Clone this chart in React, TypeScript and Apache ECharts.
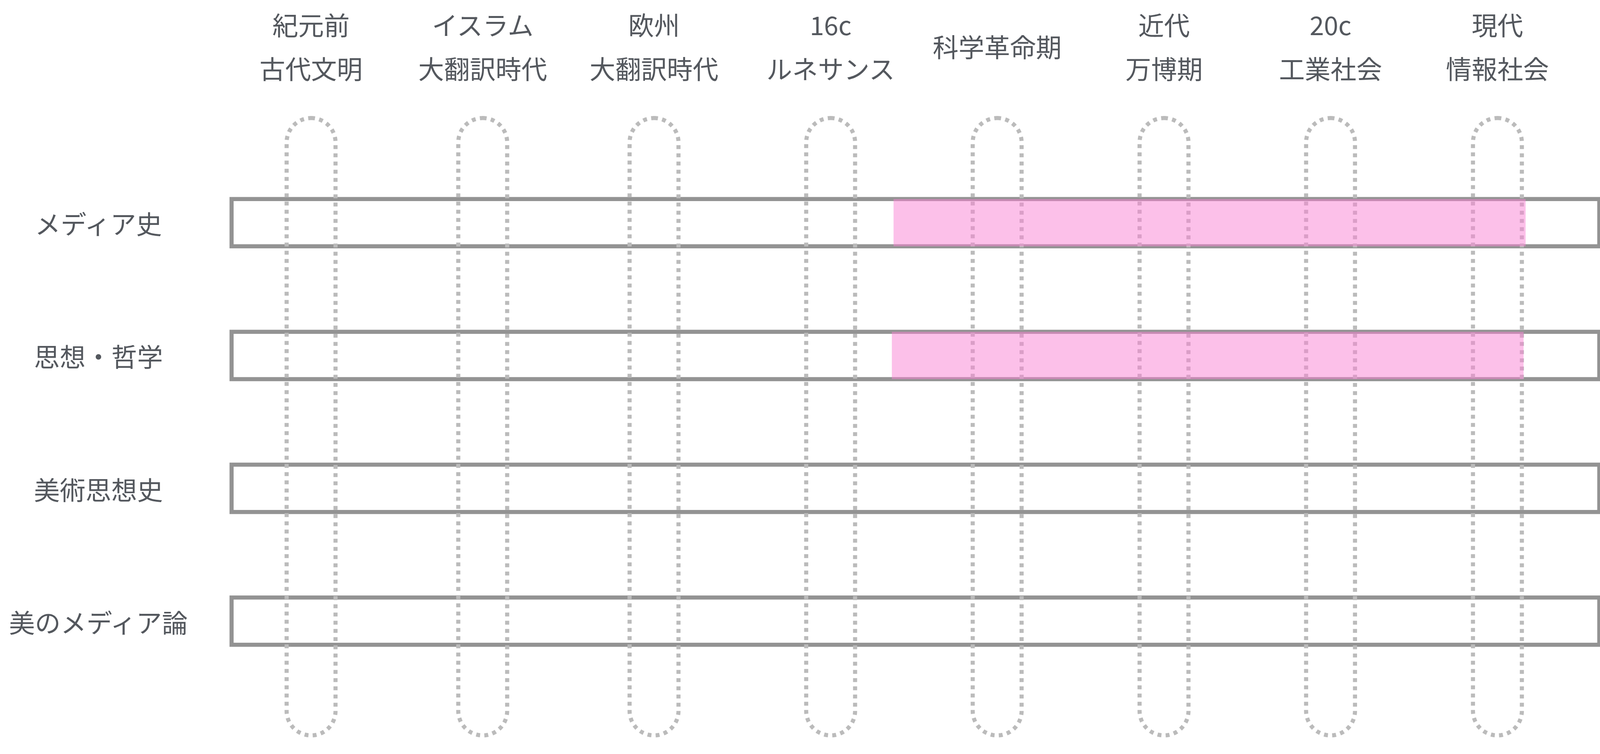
import React, { useEffect, useRef } from "react";
import * as echarts from "echarts";

// ---- data ----
const eras = [
  "紀元前\n古代文明",
  "イスラム\n大翻訳時代",
  "欧州\n大翻訳時代",
  "16c\nルネサンス",
  "科学革命期",
  "近代\n万博期",
  "20c\n工業社会",
  "現代\n情報社会",
];
// position of each era on the timeline axis (units)
const eraPositions = [0.465, 1.469, 2.471, 3.504, 4.478, 5.454, 6.428, 7.404];

const fields = ["メディア史", "思想・哲学", "美術思想史", "美のメディア論"];

// highlighted spans: row index, start, end (timeline units)
const highlightRows = [0, 1];
const highlightStart = [3.872, 3.862];
const highlightEnd = [7.569, 7.557];

const timelineMin = 0;
const timelineMax = 8;

// ---- layout / style constants (reference design is 4650 x 1931) ----
const REF_W = 4650;
const REF_H = 1931;
const CAPSULE_TOP = -0.7875;
const CAPSULE_BOTTOM = 3.86;
const CAPSULE_WIDTH = 0.286;
const HEADER_Y = -1.333;
const LANE_HEIGHT = 0.356;
const TEXT_COLOR = "#54585e";
const FONT = '"Noto Sans CJK JP", "Noto Sans CJK SC", sans-serif';

export default function App() {
  const ref = useRef<HTMLDivElement>(null);
  const W = typeof window !== "undefined" && window.innerWidth ? Math.min(window.innerWidth, REF_W) : REF_W;
  const H = typeof window !== "undefined" && window.innerHeight ? Math.min(window.innerHeight, REF_H) : REF_H;

  useEffect(() => {
    if (!ref.current) return;
    const chart = echarts.init(ref.current, undefined, { renderer: "svg" });
    const sx = W / REF_W;
    const sy = H / REF_H;
    const fontSize = Math.round(73 * Math.min(1, (sx + sy) / 2 - 0.03));

    const laneData = fields.map((_, i) => [timelineMin, timelineMax, i]);
    const eraData = eraPositions.map((p, i) => [p, i]);
    const hlData = highlightRows.map((r, i) => [highlightStart[i], highlightEnd[i], r]);

    const option: any = {
      animation: false,
      backgroundColor: "#ffffff",
      grid: {
        left: 673 * sx,
        width: 3975 * sx,
        top: 230 * sy,
        height: 1741.5 * sy,
        containLabel: false,
      },
      xAxis: { type: "value", min: timelineMin, max: timelineMax, show: false },
      yAxis: {
        type: "value",
        min: -1,
        max: 4,
        interval: 1,
        inverse: true,
        axisLine: { show: false },
        axisTick: { show: false },
        splitLine: { show: false },
        axisLabel: {
          align: "center",
          margin: (673 - 286) * sx,
          fontSize,
          fontFamily: FONT,
          color: TEXT_COLOR,
          formatter: (v: number) => (fields[v] !== undefined ? fields[v] : ""),
        },
      },
      series: [
        {
          type: "custom",
          name: "lanes",
          clip: false,
          encode: { x: [0, 1], y: 2 },
          data: laneData,
          renderItem: (params: any, api: any) => {
            const row = api.value(2);
            const a = api.coord([api.value(0), row]);
            const b = api.coord([api.value(1), row]);
            const h = api.size([0, LANE_HEIGHT])[1];
            return {
              type: "rect",
              shape: { x: a[0], y: a[1] - h / 2, width: b[0] - a[0], height: h },
              style: { fill: "none", stroke: "#939393", lineWidth: 10.5 },
            };
          },
        },
        {
          type: "custom",
          name: "eras",
          clip: false,
          encode: { x: 0, y: 1 },
          data: eraData,
          renderItem: (params: any, api: any) => {
            const x = api.value(0);
            const top = api.coord([x, CAPSULE_TOP]);
            const bottom = api.coord([x, CAPSULE_BOTTOM]);
            const w = api.size([CAPSULE_WIDTH, 0])[0];
            const t = api.coord([x, HEADER_Y]);
            return {
              type: "group",
              children: [
                {
                  type: "rect",
                  shape: {
                    x: top[0] - w / 2,
                    y: top[1],
                    width: w,
                    height: bottom[1] - top[1],
                    r: w / 2,
                  },
                  style: {
                    fill: "none",
                    stroke: "#bbbbbb",
                    lineWidth: 10.5,
                    lineDash: [10, 11],
                  },
                },
                {
                  type: "text",
                  style: {
                    text: eras[params.dataIndex],
                    x: t[0],
                    y: t[1],
                    align: "center",
                    verticalAlign: "middle",
                    fontSize,
                    fontFamily: FONT,
                    lineHeight: 112 * sy,
                    fill: TEXT_COLOR,
                  },
                },
              ],
            };
          },
        },
        {
          type: "custom",
          name: "highlights",
          clip: false,
          encode: { x: [0, 1], y: 2 },
          data: hlData,
          renderItem: (params: any, api: any) => {
            const row = api.value(2);
            const a = api.coord([api.value(0), row]);
            const b = api.coord([api.value(1), row]);
            const h = api.size([0, LANE_HEIGHT])[1];
            return {
              type: "rect",
              shape: { x: a[0], y: a[1] - h / 2, width: b[0] - a[0], height: h },
              style: { fill: "rgba(250,130,212,0.5)" },
            };
          },
        },
      ],
    };

    chart.setOption(option);
    return () => chart.dispose();
  }, []);

  return (
    <div
      ref={ref}
      style={{ position: "absolute", left: 0, top: 0, width: W, height: H, background: "#fff" }}
    />
  );
}
